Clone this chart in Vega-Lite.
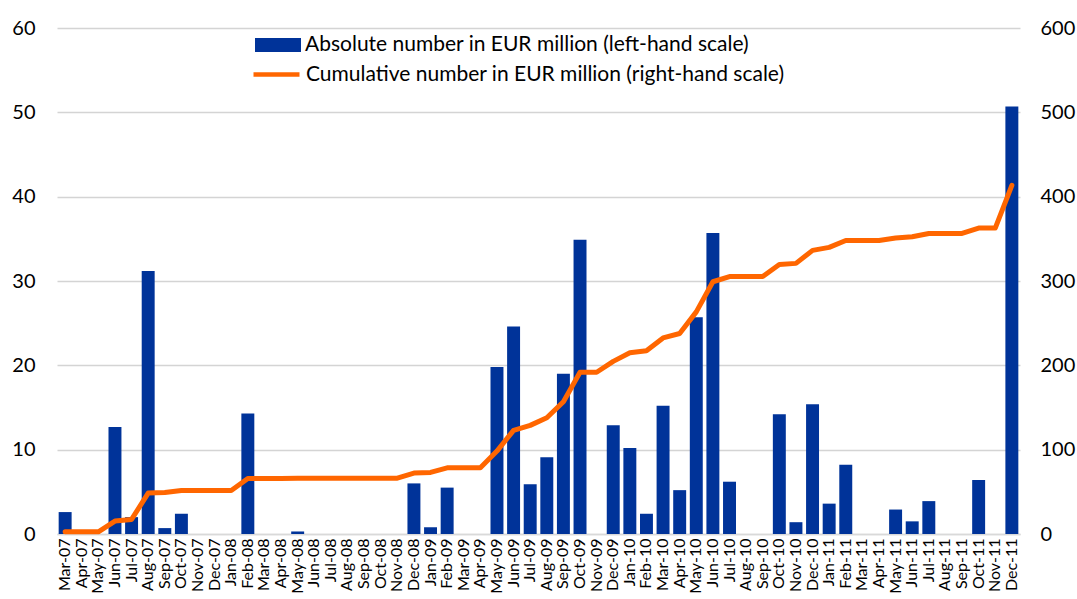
{
  "$schema": "https://vega.github.io/schema/vega-lite/v6.json",
  "width": 963,
  "height": 506,
  "autosize": {"type": "none"},
  "padding": {"left": 57, "top": 28, "right": 57, "bottom": 65},
  "background": "white",
  "config": {
    "view": {"stroke": null},
    "font": "Lato",
    "axis": {"labelColor": "#000000", "labelFont": "Lato"},
    "legend": {"labelFont": "Lato", "labelColor": "#000000", "labelLimit": 700}
  },
  "data": {
    "values": [
      {"m": "Mar-07", "abs": 2.6, "cum": 2.6},
      {"m": "Apr-07", "abs": 0, "cum": 2.6},
      {"m": "May-07", "abs": 0, "cum": 2.6},
      {"m": "Jun-07", "abs": 12.7, "cum": 15.3},
      {"m": "Jul-07", "abs": 2.0, "cum": 17.3},
      {"m": "Aug-07", "abs": 31.2, "cum": 48.5},
      {"m": "Sep-07", "abs": 0.7, "cum": 49.2},
      {"m": "Oct-07", "abs": 2.4, "cum": 51.6},
      {"m": "Nov-07", "abs": 0, "cum": 51.6},
      {"m": "Dec-07", "abs": 0, "cum": 51.6},
      {"m": "Jan-08", "abs": 0, "cum": 51.6},
      {"m": "Feb-08", "abs": 14.3, "cum": 65.9},
      {"m": "Mar-08", "abs": 0, "cum": 65.9},
      {"m": "Apr-08", "abs": 0, "cum": 65.9},
      {"m": "May-08", "abs": 0.3, "cum": 66.2},
      {"m": "Jun-08", "abs": 0, "cum": 66.2},
      {"m": "Jul-08", "abs": 0, "cum": 66.2},
      {"m": "Aug-08", "abs": 0, "cum": 66.2},
      {"m": "Sep-08", "abs": 0, "cum": 66.2},
      {"m": "Oct-08", "abs": 0, "cum": 66.2},
      {"m": "Nov-08", "abs": 0, "cum": 66.2},
      {"m": "Dec-08", "abs": 6.0, "cum": 72.2},
      {"m": "Jan-09", "abs": 0.8, "cum": 73.0},
      {"m": "Feb-09", "abs": 5.5, "cum": 78.5},
      {"m": "Mar-09", "abs": 0, "cum": 78.5},
      {"m": "Apr-09", "abs": 0, "cum": 78.5},
      {"m": "May-09", "abs": 19.8, "cum": 98.3},
      {"m": "Jun-09", "abs": 24.6, "cum": 122.9},
      {"m": "Jul-09", "abs": 5.9, "cum": 128.8},
      {"m": "Aug-09", "abs": 9.1, "cum": 137.9},
      {"m": "Sep-09", "abs": 19.0, "cum": 156.9},
      {"m": "Oct-09", "abs": 34.9, "cum": 191.8},
      {"m": "Nov-09", "abs": 0, "cum": 191.8},
      {"m": "Dec-09", "abs": 12.9, "cum": 204.7},
      {"m": "Jan-10", "abs": 10.2, "cum": 214.9},
      {"m": "Feb-10", "abs": 2.4, "cum": 217.3},
      {"m": "Mar-10", "abs": 15.2, "cum": 232.5},
      {"m": "Apr-10", "abs": 5.2, "cum": 237.7},
      {"m": "May-10", "abs": 25.7, "cum": 263.4},
      {"m": "Jun-10", "abs": 35.7, "cum": 299.1},
      {"m": "Jul-10", "abs": 6.2, "cum": 305.3},
      {"m": "Aug-10", "abs": 0, "cum": 305.3},
      {"m": "Sep-10", "abs": 0, "cum": 305.3},
      {"m": "Oct-10", "abs": 14.2, "cum": 319.5},
      {"m": "Nov-10", "abs": 1.4, "cum": 320.9},
      {"m": "Dec-10", "abs": 15.4, "cum": 336.3},
      {"m": "Jan-11", "abs": 3.6, "cum": 339.9},
      {"m": "Feb-11", "abs": 8.2, "cum": 348.1},
      {"m": "Mar-11", "abs": 0, "cum": 348.1},
      {"m": "Apr-11", "abs": 0, "cum": 348.1},
      {"m": "May-11", "abs": 2.9, "cum": 351.0},
      {"m": "Jun-11", "abs": 1.5, "cum": 352.5},
      {"m": "Jul-11", "abs": 3.9, "cum": 356.4},
      {"m": "Aug-11", "abs": 0, "cum": 356.4},
      {"m": "Sep-11", "abs": 0, "cum": 356.4},
      {"m": "Oct-11", "abs": 6.4, "cum": 362.8},
      {"m": "Nov-11", "abs": 0, "cum": 362.8},
      {"m": "Dec-11", "abs": 50.7, "cum": 413.5}
    ]
  },
  "encoding": {
    "x": {
      "field": "m",
      "type": "ordinal",
      "sort": null,
      "scale": {"paddingInner": 0.22, "paddingOuter": 0.1},
      "axis": {
        "title": null,
        "labelAngle": -90,
        "labelFontSize": 16,
        "ticks": false,
        "domainColor": "#d9d9d9",
        "domainWidth": 1.5,
        "labelPadding": 4
      }
    }
  },
  "layer": [
    {
      "mark": {"type": "bar", "color": "#003399"},
      "encoding": {
        "y": {
          "field": "abs",
          "type": "quantitative",
          "scale": {"domain": [0, 60], "nice": false},
          "axis": {
            "title": null,
            "values": [0, 10, 20, 30, 40, 50, 60],
            "grid": true,
            "gridColor": "#d4d4d4",
            "gridWidth": 1.5,
            "domain": false,
            "ticks": false,
            "labelFontSize": 20,
            "labelPadding": 22
          }
        },
        "fill": {
          "datum": "Absolute number in EUR million (left-hand scale)",
          "type": "nominal",
          "scale": {"range": ["#003399"]},
          "legend": {
            "orient": "none",
            "legendX": 198,
            "legendY": -6,
            "title": null,
            "padding": 0,
            "symbolType": "M-1,-0.3L1,-0.3L1,0.3L-1,0.3Z",
            "symbolSize": 2116,
            "symbolStrokeWidth": 0,
            "symbolOpacity": 1,
            "labelFontSize": 21,
            "labelOffset": 4
          }
        }
      }
    },
    {
      "mark": {"type": "line", "strokeWidth": 5, "strokeCap": "round", "strokeJoin": "round"},
      "encoding": {
        "y": {
          "field": "cum",
          "type": "quantitative",
          "scale": {"domain": [0, 600], "nice": false},
          "axis": {
            "orient": "right",
            "title": null,
            "values": [0, 100, 200, 300, 400, 500, 600],
            "grid": false,
            "domain": false,
            "ticks": false,
            "labelFontSize": 20,
            "labelPadding": 20
          }
        },
        "stroke": {
          "datum": "Cumulative number in EUR million (right-hand scale)",
          "type": "nominal",
          "scale": {"range": ["#FF6600"]},
          "legend": {
            "orient": "none",
            "legendX": 194,
            "legendY": 21,
            "title": null,
            "padding": 0,
            "symbolType": "stroke",
            "symbolSize": 2116,
            "symbolStrokeWidth": 4.5,
            "labelFontSize": 21,
            "labelOffset": 4
          }
        }
      }
    }
  ],
  "resolve": {"scale": {"y": "independent"}}
}
